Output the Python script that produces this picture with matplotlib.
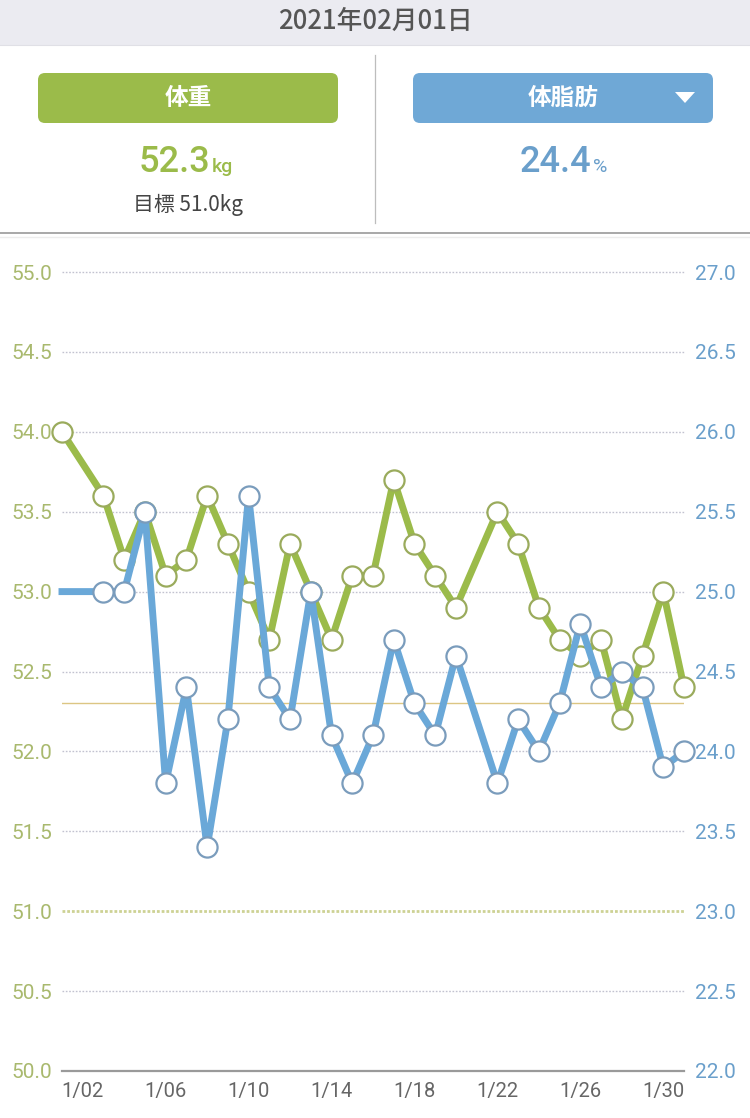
import matplotlib
matplotlib.use("Agg")
import matplotlib.pyplot as plt
from matplotlib.patches import FancyBboxPatch, Rectangle, Polygon
import numpy as np

plt.rcParams['font.family'] = ['Roboto', 'Noto Sans CJK JP', 'DejaVu Sans']

# ---------------- data ----------------
header_date = "2021年02月01日"
weight_label = "体重"
fat_label = "体脂肪"
current_weight = 52.3
current_fat = 24.4
target_weight = 51.0

weight_days = [1, 3, 4, 5, 6, 7, 8, 9, 10, 11, 12, 13, 14, 15, 16, 17, 18, 19, 20,
               22, 23, 24, 25, 26, 27, 28, 29, 30, 31]
weight_vals = [54.0, 53.6, 53.2, 53.5, 53.1, 53.2, 53.6, 53.3, 53.0, 52.7, 53.3, 53.0,
               52.7, 53.1, 53.1, 53.7, 53.3, 53.1, 52.9, 53.5, 53.3, 52.9, 52.7, 52.6,
               52.7, 52.2, 52.6, 53.0, 52.4]

# first fat entry carries over from before the visible period (no marker)
fat_days = [1, 3, 4, 5, 6, 7, 8, 9, 10, 11, 12, 13, 14, 15, 16, 17, 18, 19, 20,
            22, 23, 24, 25, 26, 27, 28, 29, 30, 31]
fat_vals = [25.0, 25.0, 25.0, 25.5, 23.8, 24.4, 23.4, 24.2, 25.6, 24.4, 24.2, 25.0,
            24.1, 23.8, 24.1, 24.7, 24.3, 24.1, 24.6, 23.8, 24.2, 24.0, 24.3, 24.8,
            24.4, 24.5, 24.4, 23.9, 24.0]

xtick_days = [2, 6, 10, 14, 18, 22, 26, 30]
xtick_labels = ["1/02", "1/06", "1/10", "1/14", "1/18", "1/22", "1/26", "1/30"]
weight_ticks = [50.0, 50.5, 51.0, 51.5, 52.0, 52.5, 53.0, 53.5, 54.0, 54.5, 55.0]
fat_ticks = [22.0, 22.5, 23.0, 23.5, 24.0, 24.5, 25.0, 25.5, 26.0, 26.5, 27.0]

# ---------------- style ----------------
GREEN = '#9bbb4a'
GREEN_EDGE = '#9aab5c'
GREEN_TXT = '#a9b96e'
BLUE = '#6aa8d8'
BLUE_EDGE = '#7a9cbc'
BLUE_TXT = '#6a9fcb'
CJK = ['Noto Sans CJK JP', 'DejaVu Sans']

W, H = 750, 1118
fig = plt.figure(figsize=(W / 100, H / 100), dpi=100)
fig.patch.set_facecolor('white')

# overlay in pixel coordinates for header UI
ov = fig.add_axes([0, 0, 1, 1], zorder=0)
ov.set_xlim(0, W)
ov.set_ylim(H, 0)
ov.axis('off')

ov.add_patch(Rectangle((0, 0), W, 45, facecolor='#ebebf1', edgecolor='none'))
ov.plot([0, W], [45, 45], color='#e0e0e6', lw=0.8)
ov.text(375, 21, header_date, ha='center', va='center', fontsize=18.5,
        color='#555555', family=CJK, fontweight='medium')

ov.plot([375, 375], [55, 223], color='#bdbdbd', lw=0.9)
ov.plot([0, W], [233, 233], color='#a8a8a8', lw=1.4)
ov.plot([0, W], [237, 237], color='#ededed', lw=1.0)

ov.add_patch(FancyBboxPatch((38, 73), 300, 50, boxstyle="round,pad=0,rounding_size=7",
                            facecolor=GREEN, edgecolor='none'))
ov.add_patch(FancyBboxPatch((413, 73), 300, 50, boxstyle="round,pad=0,rounding_size=7",
                            facecolor='#6fa8d6', edgecolor='none'))
ov.text(188, 98, weight_label, ha='center', va='center', fontsize=17, color='white',
        fontweight='bold', family=CJK)
ov.text(563, 98, fat_label, ha='center', va='center', fontsize=17, color='white',
        fontweight='bold', family=CJK)
ov.add_patch(Polygon([[675, 92], [695, 92], [685, 103]], closed=True,
                     facecolor='white', edgecolor='none'))

ov.text(210, 172, f"{current_weight:.1f}", ha='right', va='baseline', fontsize=26,
        color=GREEN, fontweight='medium')
ov.text(212, 172, "kg", ha='left', va='baseline', fontsize=14, color=GREEN,
        fontweight='medium')
ov.text(591, 172, f"{current_fat:.1f}", ha='right', va='baseline', fontsize=26,
        color=BLUE_TXT, fontweight='medium')
ov.text(593, 172, "%", ha='left', va='baseline', fontsize=14, color=BLUE_TXT)
ov.text(188, 205, f"目標 {target_weight:.1f}kg", ha='center', va='center', fontsize=15,
        color='#444444', family=CJK)

# ---------------- chart ----------------
left, right = 62 / W, 684 / W
top, bottom = 1 - 272 / H, 1 - 1071 / H
ax = fig.add_axes([left, bottom, right - left, top - bottom], zorder=2)
ax.patch.set_alpha(0)
ax.set_xlim(1, 31)
ax.set_ylim(50, 55)

for t in weight_ticks[1:]:
    if t == target_weight:
        continue
    ax.axhline(t, color='#c2c2d0', lw=1.0, ls=(0, (1.2, 1.2)), zorder=1, clip_on=False)
ax.axhline(target_weight, color='#cdd294', lw=2.0, ls=(0, (1.0, 0.7)), zorder=1)
ax.axhline(current_weight, color='#dcc683', lw=1.0, zorder=1)

ax.plot(weight_days, weight_vals, color=GREEN, lw=5, zorder=3, solid_joinstyle='round',
        marker='o', ms=14.5, mfc='white', mec=GREEN_EDGE, mew=1.6, clip_on=False)

ax2 = ax.twinx()
ax2.set_ylim(22, 27)
ax2.plot(fat_days, fat_vals, color=BLUE, lw=5, zorder=4, solid_joinstyle='round',
         marker='o', ms=14.5, mfc='white', mec=BLUE_EDGE, mew=1.6,
         markevery=list(range(1, len(fat_days))), clip_on=False)

for a in (ax, ax2):
    for s in ('top', 'left', 'right'):
        a.spines[s].set_visible(False)
ax.spines['bottom'].set_color('#9a9a9a')
ax.spines['bottom'].set_linewidth(1.6)
ax2.spines['bottom'].set_visible(False)

ax.set_yticks(weight_ticks)
ax.set_yticklabels([f"{t:.1f}" for t in weight_ticks])
ax.tick_params(axis='y', length=0, pad=7, labelsize=15, labelcolor=GREEN_TXT)
ax2.set_yticks(fat_ticks)
ax2.set_yticklabels([f"{t:.1f}" for t in fat_ticks])
ax2.tick_params(axis='y', length=0, pad=8, labelsize=15, labelcolor=BLUE_TXT)

ax.set_xticks(xtick_days)
ax.set_xticklabels(xtick_labels)
ax.tick_params(axis='x', length=0, pad=8, labelsize=14.5, labelcolor='#666666')

fig.savefig("out.png", dpi=100, facecolor='white')
